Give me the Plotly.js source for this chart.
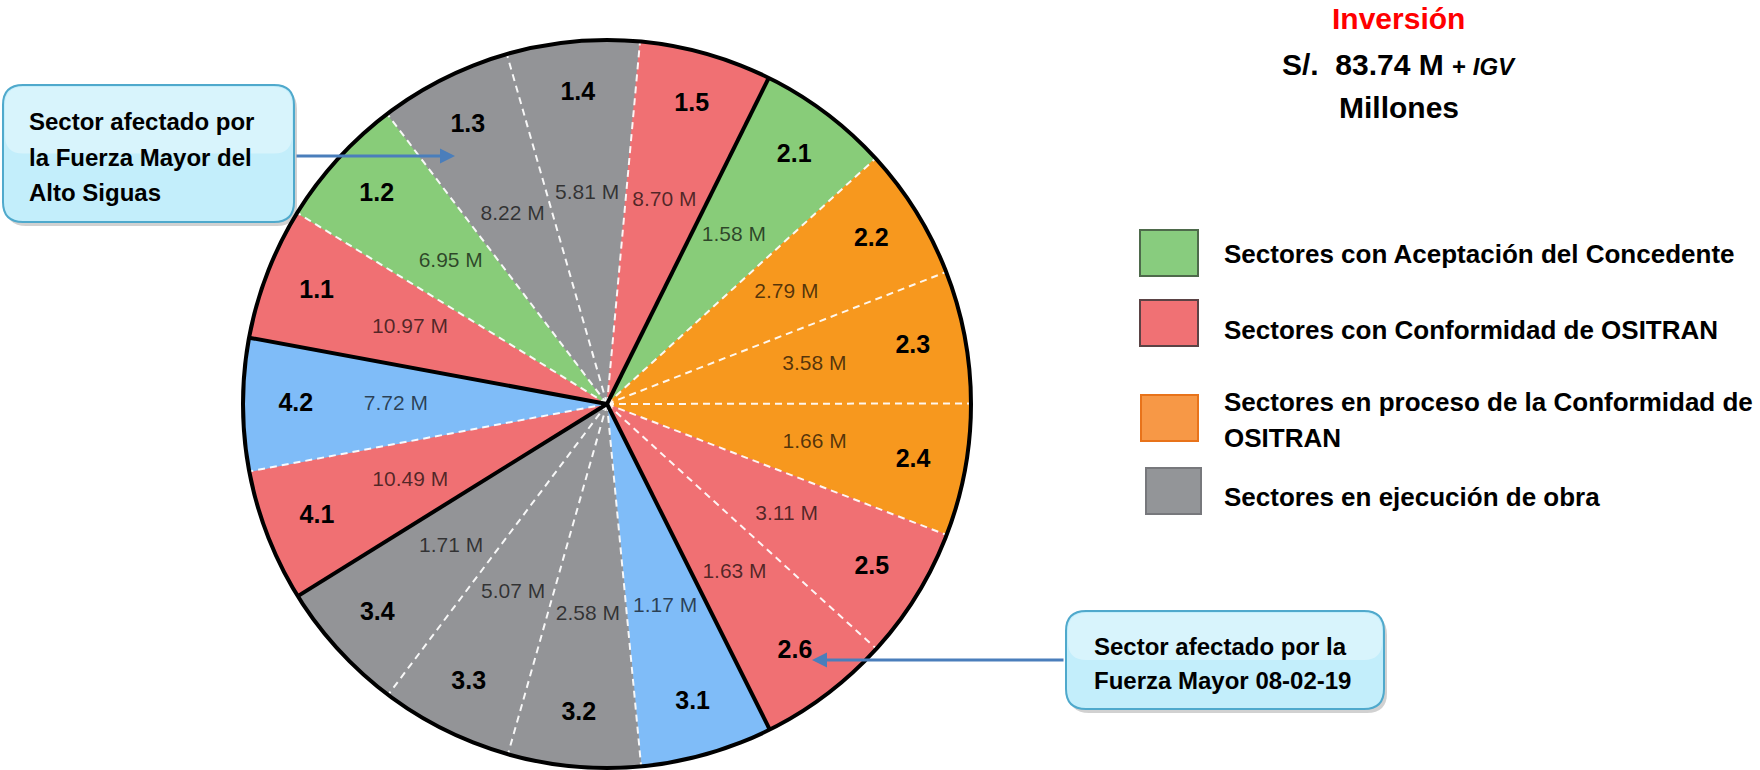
<!DOCTYPE html>
<html><head><meta charset="utf-8">
<script src="https://cdn.plot.ly/plotly-3.0.1.min.js"></script>
<style>html,body{margin:0;padding:0;background:#fff}#chart{width:1760px;height:770px}</style>
</head><body><div id="chart"></div>
<script>
// ---------- DATA ----------
const sectors = ['1.1','1.2','1.3','1.4','1.5','2.1','2.2','2.3','2.4','2.5','2.6','3.1','3.2','3.3','3.4','4.1','4.2'];
const investment = [10.97, 6.95, 8.22, 5.81, 8.70, 1.58, 2.79, 3.58, 1.66, 3.11, 1.63, 1.17, 2.58, 5.07, 1.71, 10.49, 7.72];
const status = ['conformidad','aceptacion','ejecucion','ejecucion','conformidad','aceptacion','proceso','proceso','proceso','conformidad','conformidad','otro','ejecucion','ejecucion','ejecucion','conformidad','otro'];
const sliceShare = [1,1,1,1,1,1,1,1,1,1,1,1,1,1,1,1,1];
const legendStatus = ['aceptacion','conformidad','proceso','ejecucion'];
const legendLabels = ['Sectores con Aceptación del Concedente','Sectores con Conformidad de OSITRAN','Sectores en proceso de la Conformidad de<br>OSITRAN','Sectores en ejecución de obra'];
const titleLines = ['Inversión','S/.&nbsp; 83.74 M','Millones'];
const titleSuffix = 'IGV';
const calloutTop = ['Sector afectado por','la Fuerza Mayor del','Alto Siguas'];
const calloutBottom = ['Sector afectado por la','Fuerza Mayor 08-02-19'];

// ---------- STYLE ----------
const sliceColors = {aceptacion:'#88CC79', conformidad:'#F07073', proceso:'#F7981E', ejecucion:'#939497', otro:'#7FBCF8'};
const legendFill = {aceptacion:'#88CC7E', conformidad:'#F07174', proceso:'#F79846', ejecucion:'#939598'};
const legendBorder = {aceptacion:'#4E6A4B', conformidad:'#5B4345', proceso:'#E8731A', ejecucion:'#77787C'};
const NARROW = 'Liberation Sans Narrow, Arial Narrow, Liberation Sans, Arial, sans-serif';
const SANS = 'Liberation Sans, Arial, sans-serif';

const W = 1760, H = 770;
const cx = 607, cy = 404, R = 364;
const px = x => x / W, py = y => 1 - y / H;

// ---------- GEOMETRY FROM DATA ----------
const startAngle = -79.5;
const total = sliceShare.reduce((a, b) => a + b, 0);
const widths = sliceShare.map(s => s / total * 360);
const starts = [], mids = [];
let acc = startAngle;
widths.forEach(w => { starts.push(acc); mids.push(acc + w / 2); acc += w; });

const dashR = [], dashT = [], solidR = [], solidT = [];
sectors.forEach((s, i) => {
  const prev = sectors[(i - 1 + sectors.length) % sectors.length];
  const groupChange = prev.split('.')[0] !== s.split('.')[0];
  if (groupChange) { solidR.push(0, 1, null); solidT.push(starts[i], starts[i], null); }
  else { dashR.push(0, 1, null); dashT.push(starts[i], starts[i], null); }
});

const colors = status.map(s => sliceColors[s]);

const traces = [
  {type:'barpolar', r: sliceShare.map(() => 1), theta: mids, width: widths,
   marker:{color: colors, line:{color: colors, width: 1}}, hoverinfo:'skip', showlegend:false},
  {type:'scatterpolar', mode:'lines', r: dashR, theta: dashT, connectgaps:false,
   line:{color:'rgba(255,255,255,0.92)', width:2, dash:'7px,5px'}, hoverinfo:'skip', showlegend:false},
  {type:'scatterpolar', mode:'lines', r: solidR, theta: solidT, connectgaps:false,
   line:{color:'#000', width:4}, hoverinfo:'skip', showlegend:false},
  {type:'scatterpolar', mode:'text', r: investment.map(() => 0.58), theta: mids,
   text: investment.map(v => v.toFixed(2) + ' M'),
   textfont:{family: SANS, size: 21, color:'rgba(0,0,0,0.66)'}, hoverinfo:'skip', showlegend:false},
  {type:'scatterpolar', mode:'text', r: sectors.map(() => 0.855), theta: mids,
   text: sectors.map(s => '<b>' + s + '</b>'),
   textfont:{family: SANS, size: 25, color:'#000'}, hoverinfo:'skip', showlegend:false}
];

// ---------- LAYOUT DECORATIONS ----------
const shapes = [], annotations = [];

function roundRect(x0, y0, x1, y1, r) {
  const X = v => px(v).toFixed(5), Y = v => py(v).toFixed(5);
  return `M ${X(x0+r)},${Y(y0)} L ${X(x1-r)},${Y(y0)} Q ${X(x1)},${Y(y0)} ${X(x1)},${Y(y0+r)} ` +
         `L ${X(x1)},${Y(y1-r)} Q ${X(x1)},${Y(y1)} ${X(x1-r)},${Y(y1)} L ${X(x0+r)},${Y(y1)} ` +
         `Q ${X(x0)},${Y(y1)} ${X(x0)},${Y(y1-r)} L ${X(x0)},${Y(y0+r)} Q ${X(x0)},${Y(y0)} ${X(x0+r)},${Y(y0)} Z`;
}
function callout(box, lines, textX, firstY, step, head, tail) {
  const [x0, y0, x1, y1] = box;
  shapes.push({type:'path', xref:'paper', yref:'paper', path: roundRect(x0+3, y0+4, x1+3, y1+4, 20),
    fillcolor:'rgba(0,0,0,0.18)', line:{width:0}});
  shapes.push({type:'path', xref:'paper', yref:'paper', path: roundRect(x0, y0, x1, y1, 20),
    fillcolor:'#C3EEFB', line:{color:'#4FA9CC', width:2}});
  shapes.push({type:'path', xref:'paper', yref:'paper', path: roundRect(x0+2, y0+2, x1-2, y0 + (y1-y0)*0.5, 18),
    fillcolor:'rgba(255,255,255,0.35)', line:{width:0}});
  lines.forEach((t, k) => annotations.push({xref:'paper', yref:'paper', x: px(textX), y: py(firstY + k*step),
    xanchor:'left', yanchor:'middle', showarrow:false, text:'<b>' + t + '</b>',
    font:{family: NARROW, size: 24, color:'#000'}}));
  annotations.push({xref:'paper', yref:'paper', x: px(head[0]), y: py(head[1]), text:'', showarrow:true,
    ax: tail[0]-head[0], ay: tail[1]-head[1], arrowhead:2, arrowsize:1, arrowwidth:3, arrowcolor:'#4A7EBB', standoff:0, startstandoff:0});
}
callout([3, 85, 294, 222], calloutTop, 27, 121, 36, [455, 156], [295, 156]);
callout([1066, 611, 1384, 709], calloutBottom, 1092, 646, 34, [812, 660], [1065, 660]);

// Title block
const titleY = [19, 64, 107];
annotations.push({xref:'paper', yref:'paper', x: px(1398), y: py(titleY[0]), xanchor:'center', yanchor:'middle', showarrow:false,
  text:'<b>' + titleLines[0] + '</b>', font:{family: NARROW, size: 30, color:'#FF0000'}});
annotations.push({xref:'paper', yref:'paper', x: px(1399), y: py(titleY[1]), xanchor:'center', yanchor:'middle', showarrow:false,
  text:'<b>' + titleLines[1] + ' <span style="font-size:24px">+ <i>' + titleSuffix + '</i></span></b>', font:{family: NARROW, size: 30, color:'#000'}});
annotations.push({xref:'paper', yref:'paper', x: px(1399), y: py(titleY[2]), xanchor:'center', yanchor:'middle', showarrow:false,
  text:'<b>' + titleLines[2] + '</b>', font:{family: NARROW, size: 30, color:'#000'}});

// Custom legend
const swatchTop = [230, 300, 395, 468];
const swatchX = [[1140,1198],[1140,1198],[1141,1198],[1146,1201]];
const textFirstY = [254, 330, 402, 497];
legendStatus.forEach((s, i) => {
  shapes.push({type:'rect', xref:'paper', yref:'paper', x0: px(swatchX[i][0]), x1: px(swatchX[i][1]),
    y0: py(swatchTop[i]), y1: py(swatchTop[i] + 46), fillcolor: legendFill[s], line:{color: legendBorder[s], width: 2}});
  legendLabels[i].split('<br>').forEach((t, k) => annotations.push({xref:'paper', yref:'paper', x: px(1222), y: py(textFirstY[i] + k*36),
    xanchor:'left', yanchor:'middle', showarrow:false, text:'<b>' + t + '</b>', font:{family: NARROW, size: 26, color:'#000'}}));
});

const layout = {
  width: W, height: H, margin:{l:0, r:0, t:0, b:0}, paper_bgcolor:'#fff', showlegend:false,
  polar:{
    domain:{x:[(cx-R)/W, (cx+R)/W], y:[1-(cy+R)/H, 1-(cy-R)/H]},
    bgcolor:'rgba(0,0,0,0)', bargap:0, hole:0,
    angularaxis:{rotation:90, direction:'clockwise', thetaunit:'degrees', showgrid:false, showticklabels:false, ticks:'',
      showline:true, linecolor:'#000', linewidth:4},
    radialaxis:{visible:false, range:[0,1]}
  },
  shapes, annotations
};
Plotly.newPlot('chart', traces, layout, {displayModeBar:false, staticPlot:true});
</script></body></html>
